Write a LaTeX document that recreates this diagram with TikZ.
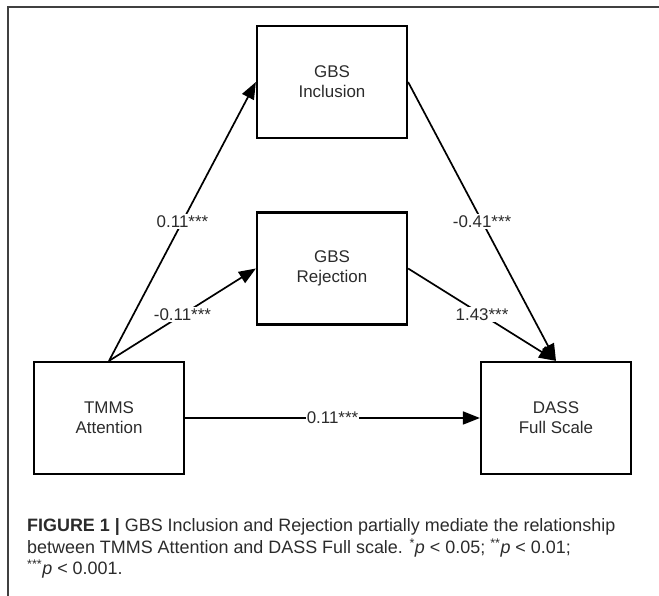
\documentclass[tikz,border=0pt]{standalone}
\usepackage{fontspec}
\setmainfont{Liberation Sans}
\usetikzlibrary{arrows.meta,positioning}
\definecolor{textgray}{HTML}{2B2B2B}

\begin{document}
\begin{tikzpicture}[x=1bp, y=1bp, font=\fontsize{17}{20}\selectfont,
  box/.style={draw, line width=2.2bp, minimum width=150bp, minimum height=112bp,
              align=center, text=textgray},
  arr/.style={-{Triangle[length=17bp,width=13bp]}, line width=1.7bp},
  coef/.style={fill=white, inner sep=1.5bp, text=textgray}]
  \useasboundingbox (0,0) rectangle (659,596);
  % Frame
  \draw[line width=1.2bp, black!75] (8,0) -- (8,589) -- (659,589);
  % Boxes
  \node[box] (incl) at (332,514)   {GBS\\Inclusion};
  \node[box] (rej)  at (332,327.5) {GBS\\Rejection};
  \node[box] (tmms) at (109,178)   {TMMS\\Attention};
  \node[box] (dass) at (556,178)   {DASS\\Full Scale};
  % Paths
  \draw[arr] (tmms.north) -- (incl.west) node[coef,midway] (a1) {0.11***};
  \draw[arr] (tmms.north) -- (rej.west)  node[coef,midway] (a2) {-0.11***};
  \draw[arr] (incl.east) -- (dass.north) node[coef,midway] (b1) {-0.41***};
  \draw[arr] (rej.east)  -- (dass.north) node[coef,midway] (b2) {1.43***};
  \draw[arr] (tmms.east) -- (dass.west)  node[coef,midway,inner sep=0.5bp] (c1) {0.11***};
  % Caption
  \begin{scope}[font=\fontsize{18}{21}\selectfont, textgray]
    \node[anchor=base west, inner sep=0] (cap1) at (27,64)
      {\textbf{FIGURE 1 |} GBS Inclusion and Rejection partially mediate the relationship};
    \node[anchor=base west, inner sep=0] (cap2) at (27,42)
      {between TMMS Attention and DASS Full scale. \textsuperscript{*}\textit{p} < 0.05; \textsuperscript{**}\textit{p} < 0.01;};
    \node[anchor=base west, inner sep=0] (cap3) at (27,21)
      {\textsuperscript{***}\textit{p} < 0.001.};
  \end{scope}
\end{tikzpicture}
\end{document}
